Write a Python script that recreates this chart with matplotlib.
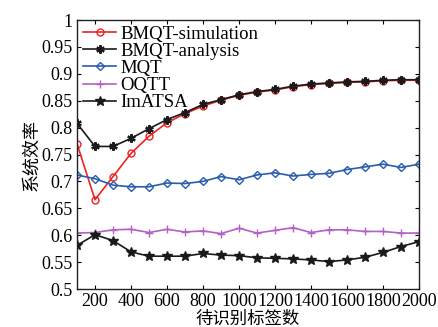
import numpy as np
import matplotlib.pyplot as plt

plt.rcParams['font.family'] = ['Liberation Serif', 'Noto Sans CJK SC']
plt.rcParams['mathtext.fontset'] = 'stix'

# number of tags to identify
n_tags = np.arange(100, 2001, 100)

bmqt_sim = [0.770, 0.666, 0.709, 0.752, 0.784, 0.809, 0.826, 0.840, 0.851, 0.860,
            0.866, 0.870, 0.876, 0.880, 0.882, 0.884, 0.885, 0.887, 0.888, 0.888]
bmqt_ana = [0.808, 0.765, 0.765, 0.780, 0.798, 0.815, 0.828, 0.843, 0.852, 0.861,
            0.867, 0.871, 0.877, 0.881, 0.883, 0.885, 0.886, 0.888, 0.889, 0.889]
mqt = [0.712, 0.705, 0.693, 0.690, 0.690, 0.697, 0.696, 0.700, 0.709, 0.703,
       0.712, 0.716, 0.710, 0.713, 0.715, 0.722, 0.727, 0.732, 0.726, 0.732]
oqtt = [0.604, 0.605, 0.610, 0.611, 0.605, 0.611, 0.606, 0.608, 0.603, 0.613,
        0.604, 0.609, 0.614, 0.605, 0.610, 0.610, 0.607, 0.607, 0.604, 0.604]
imatsa = [0.581, 0.601, 0.590, 0.569, 0.561, 0.561, 0.561, 0.566, 0.563, 0.562,
          0.558, 0.557, 0.556, 0.554, 0.551, 0.554, 0.559, 0.568, 0.579, 0.588]

fig = plt.figure(figsize=(4.39, 3.27), dpi=100)
ax = fig.add_axes([0.1754, 0.1162, 0.7790, 0.8226])

ax.plot(n_tags, bmqt_sim, color='#ee2222', lw=1.2, marker='o', ms=5,
        mfc='none', mew=1.0, label='BMQT-simulation')
ax.plot(n_tags, bmqt_ana, color='#1a1a1a', lw=1.2, marker=(6, 2, 0), ms=6,
        mew=1.6, label='BMQT-analysis')
ax.plot(n_tags, mqt, color='#2a5cad', lw=1.2, marker='D', ms=4,
        mfc='none', mew=1.0, label='MQT')
ax.plot(n_tags, oqtt, color='#b361c4', lw=1.2, marker='+', ms=6,
        mew=1.0, label='OQTT')
ax.plot(n_tags, imatsa, color='#1a1a1a', lw=1.2, marker='*', ms=7,
        label='ImATSA')

ax.set_xlim(100, 2000)
ax.set_ylim(0.5, 1)
ax.set_xticks(np.arange(200, 2001, 200))
ax.set_yticks(np.arange(0.5, 1.001, 0.05))
ax.set_yticklabels(['0.5', '0.55', '0.6', '0.65', '0.7', '0.75', '0.8',
                    '0.85', '0.9', '0.95', '1'])
ax.tick_params(direction='in', top=True, right=True, labelsize=13,
               length=3, pad=3, width=0.8)
for s in ax.spines.values():
    s.set_linewidth(1.0)
    s.set_color('#222222')

ax.set_xlabel('待识别标签数', fontsize=12.5, labelpad=0,
              family=['Noto Sans CJK SC'])
ax.set_ylabel('系统效率', fontsize=13, labelpad=1,
              family=['Noto Sans CJK SC'])

ax.legend(loc='upper left', frameon=False, fontsize=13.5, handlelength=1.8,
          handletextpad=0.2, labelspacing=0.0, borderaxespad=0.1,
          borderpad=0.2)

fig.savefig('out.png', dpi=100)
